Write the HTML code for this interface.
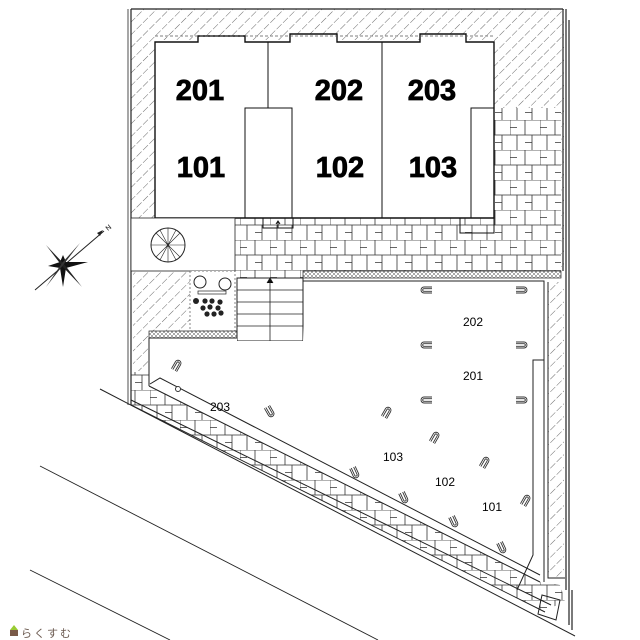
<!DOCTYPE html>
<html><head><meta charset="utf-8"><style>
html,body{margin:0;padding:0;background:#fff;width:640px;height:640px;overflow:hidden}
svg{display:block}
</style></head><body>
<svg width="640" height="640" viewBox="0 0 640 640" xmlns="http://www.w3.org/2000/svg" font-family="Liberation Sans, Arial, sans-serif">
<defs>
<pattern id="hatch" width="9" height="9" patternUnits="userSpaceOnUse" patternTransform="rotate(45)">
<line x1="0" y1="0" x2="0" y2="9" stroke="#444" stroke-width="0.8" stroke-dasharray="5,2"/>
</pattern>
<pattern id="pave" width="30" height="30" patternUnits="userSpaceOnUse">
<rect width="30" height="30" fill="#fff"/>
<path d="M0 0H30M0 15H30M0 0V15M15 0V15M7 15V30M22 15V30M0 7.5H7M15 22.5H22" stroke="#333" stroke-width="0.8" fill="none"/>
</pattern>
<pattern id="dots" width="4" height="4" patternUnits="userSpaceOnUse">
<rect width="4" height="4" fill="#fff"/><path d="M0 0L4 4M4 0L0 4" stroke="#555" stroke-width="0.5"/>
</pattern>
<g id="u"><path d="M-3 -6 V2 A3 3 0 0 0 3 2 V-6 M-1.3 -6 V2 A1.3 1.3 0 0 0 1.3 2 V-6" stroke="#333" stroke-width="0.9" fill="none"/></g>
</defs>
<rect width="640" height="640" fill="#fff"/>

<rect x="131" y="9" width="433" height="262" fill="url(#hatch)"/>
<rect x="133" y="271" width="57" height="60" fill="url(#hatch)"/>
<rect x="133" y="331" width="16" height="40" fill="url(#hatch)"/>
<rect x="548" y="282" width="16" height="295" fill="url(#hatch)"/>
<rect x="494" y="108" width="67" height="163" fill="url(#pave)"/>
<rect x="235" y="218" width="326" height="53" fill="url(#pave)"/>
<rect x="235" y="271" width="68" height="7" fill="url(#pave)"/>
<polygon points="131,372 149,372 149,386 540,582 560,585 565,600 545,612 131,405" fill="url(#pave)"/>
<g stroke="#222" stroke-width="1.2" fill="none">
<path d="M131 9 V405"/>
<path d="M128 9 V405" stroke-width="0.8"/>
<path d="M131 9 H563"/>
<path d="M563 9 V271 M566 9 V590 M569 20 V625 M572 590 V630"/>
</g>
<rect x="155" y="40" width="339" height="178" fill="#fff"/>
<path d="M155 218 V42 H198 V36 H245 V42 H290 V34 H337 V42 H420 V34 H466 V42 H494 V218 Z" fill="#fff" stroke="#111" stroke-width="1.4"/>
<path d="M155 36 H494" stroke="#555" stroke-dasharray="3,2" stroke-width="0.8"/>
<g stroke="#111" stroke-width="1" fill="none">
<path d="M268 42 V108 M382 42 V218"/>
<rect x="245" y="108" width="47" height="110"/>
<rect x="471" y="108" width="23" height="110"/>
<rect x="460" y="218" width="34" height="15"/>
<rect x="263" y="218" width="30" height="10"/>
<path d="M278 228 V222 M276 224 L278 221 L280 224"/>
</g>
<g font-weight="bold" font-size="29" text-anchor="middle" fill="#000" stroke="#000" stroke-width="0.8">
<text x="200" y="100">201</text><text x="339" y="100">202</text><text x="432" y="100">203</text>
<text x="201" y="177">101</text><text x="340" y="177">102</text><text x="433" y="177">103</text>
</g>
<rect x="131" y="218" width="104" height="53" fill="#fff" stroke="#222" stroke-width="0.8"/>
<circle cx="168" cy="245" r="17" fill="#fff" stroke="#222"/>
<g stroke="#222" stroke-width="0.6"><path d="M151 245H185M168 228V262M156 233L180 257M180 233L156 257M160 230L176 260M176 230L160 260"/></g>
<rect x="190" y="271" width="45" height="60" fill="#fff" stroke="#555" stroke-dasharray="2,2" stroke-width="0.7"/>
<circle cx="200" cy="282" r="6" fill="#fff" stroke="#222"/><circle cx="225" cy="284" r="6" fill="#fff" stroke="#222"/>
<rect x="198" y="291" width="28" height="3" fill="#fff" stroke="#222" stroke-width="0.7"/>
<g fill="#222"><circle cx="196" cy="301" r="3"/><circle cx="205" cy="301" r="2.6"/><circle cx="212" cy="301" r="2.6"/><circle cx="220" cy="302" r="2.6"/><circle cx="203" cy="308" r="2.6"/><circle cx="210" cy="307" r="2.6"/><circle cx="218" cy="308" r="2.6"/><circle cx="207" cy="314" r="2.6"/><circle cx="214" cy="314" r="2.6"/><circle cx="221" cy="313" r="2.6"/></g>
<rect x="149" y="331" width="88" height="7" fill="url(#dots)" stroke="#222" stroke-width="0.7"/>
<rect x="303" y="271" width="258" height="7" fill="url(#dots)" stroke="#222" stroke-width="0.7"/>
<rect x="237" y="278" width="66" height="63" fill="#fff" stroke="#222"/>
<g stroke="#222" stroke-width="0.8"><path d="M237 290H303M237 302H303M237 314H303M237 326H303M270 278V341M267 283L270 278L273 283"/></g>
<text x="270" y="348" font-size="7" font-weight="bold" text-anchor="middle">UP</text>
<polygon points="149,338 237,338 237,341 303,341 305,281 544,281 544,560 540,582 149,386" fill="#fff"/>
<g stroke="#222" stroke-width="1" fill="none">
<path d="M149 338 H237 M149 338 V386 M303 281 H544 V582 M548 282 V578 H565"/>
<path d="M544 360 H533 V555 L517 590"/>
<path d="M149 386 L540 582"/>
<path d="M131 405 L545 612 M131 400 L551 605"/>
<path d="M150 384 L160 378 L540 575"/>
<path d="M100 389 L575 636"/>
<path d="M542 595 L560 600 L556 620 L538 614 Z"/>
</g>
<g stroke="#222" stroke-width="0.9" fill="none">
<path d="M40 466 L378 640"/>
<path d="M30 570 L170 640"/>
</g>
<g>
<use href="#u" transform="translate(426,290) rotate(90)"/><use href="#u" transform="translate(426,345) rotate(90)"/><use href="#u" transform="translate(426,400) rotate(90)"/>
<use href="#u" transform="translate(522,290) rotate(-90)"/><use href="#u" transform="translate(522,345) rotate(-90)"/><use href="#u" transform="translate(522,400) rotate(-90)"/>
<use href="#u" transform="translate(177,365) rotate(-150)"/>
<use href="#u" transform="translate(270,412) rotate(-30)"/>
<use href="#u" transform="translate(387,412) rotate(-150)"/>
<use href="#u" transform="translate(435,437) rotate(-150)"/>
<use href="#u" transform="translate(485,462) rotate(-150)"/>
<use href="#u" transform="translate(526,500) rotate(-150)"/>
<use href="#u" transform="translate(355,473) rotate(-25)"/>
<use href="#u" transform="translate(404,498) rotate(-25)"/>
<use href="#u" transform="translate(454,522) rotate(-25)"/>
<use href="#u" transform="translate(502,548) rotate(-25)"/>
</g>
<circle cx="178" cy="389" r="2.5" fill="#fff" stroke="#333"/>
<g font-size="12" text-anchor="middle" fill="#000">
<text x="473" y="326">202</text><text x="473" y="380">201</text><text x="220" y="411">203</text>
<text x="393" y="461">103</text><text x="445" y="486">102</text><text x="492" y="511">101</text>
</g>
<g>
<line x1="35" y1="290" x2="104" y2="231" stroke="#222" stroke-width="1"/>
<path d="M97 233 L103 230 L100 236 Z" fill="#222"/>
<polygon points="63,255 66,262 88,262 66,268 63,287 60,268 48,266 60,262" fill="#111"/>
<polygon points="46,245 64,264 82,287 62,266" fill="#222"/>
<polygon points="80,243 64,264 46,287 62,263" fill="#333"/>
<text x="108" y="231" font-size="7" transform="rotate(-40 108 231)">N</text>
</g>
<path d="M10 630 L14 625 L18 630 Z" fill="#9c3"/><rect x="10" y="630" width="8" height="6" fill="#7a5a48"/>
<text x="21" y="637" font-size="11" fill="#6b5a50" font-family="Liberation Sans, Noto Sans CJK JP, sans-serif" letter-spacing="2">らくすむ</text>
</svg>
</body></html>
